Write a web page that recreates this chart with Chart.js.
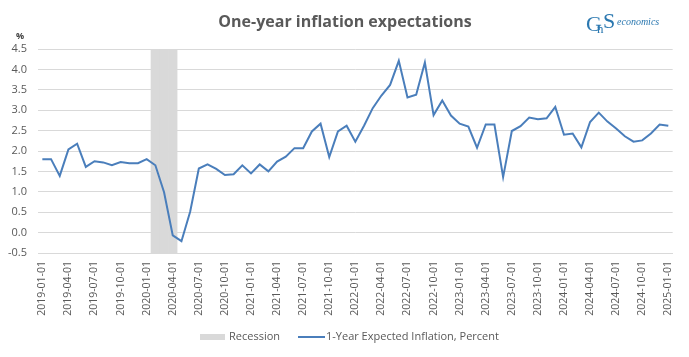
<!DOCTYPE html>
<html>
<head>
<meta charset="utf-8">
<script src="https://cdn.jsdelivr.net/npm/chart.js@4"></script>
<style>
html,body{margin:0;padding:0;background:#fff;}
#wrap{width:689px;height:357px;position:relative;}
</style>
</head>
<body>
<div id="wrap"><canvas id="c" width="689" height="357"></canvas></div>
<script>
const months = [
"2019-01-01","2019-02-01","2019-03-01","2019-04-01","2019-05-01","2019-06-01","2019-07-01","2019-08-01","2019-09-01","2019-10-01","2019-11-01","2019-12-01",
"2020-01-01","2020-02-01","2020-03-01","2020-04-01","2020-05-01","2020-06-01","2020-07-01","2020-08-01","2020-09-01","2020-10-01","2020-11-01","2020-12-01",
"2021-01-01","2021-02-01","2021-03-01","2021-04-01","2021-05-01","2021-06-01","2021-07-01","2021-08-01","2021-09-01","2021-10-01","2021-11-01","2021-12-01",
"2022-01-01","2022-02-01","2022-03-01","2022-04-01","2022-05-01","2022-06-01","2022-07-01","2022-08-01","2022-09-01","2022-10-01","2022-11-01","2022-12-01",
"2023-01-01","2023-02-01","2023-03-01","2023-04-01","2023-05-01","2023-06-01","2023-07-01","2023-08-01","2023-09-01","2023-10-01","2023-11-01","2023-12-01",
"2024-01-01","2024-02-01","2024-03-01","2024-04-01","2024-05-01","2024-06-01","2024-07-01","2024-08-01","2024-09-01","2024-10-01","2024-11-01","2024-12-01",
"2025-01-01"];

const inflation = [
1.80,1.80,1.39,2.04,2.18,1.61,1.75,1.72,1.65,1.73,1.70,1.70,
1.80,1.65,0.99,-0.07,-0.21,0.51,1.57,1.67,1.56,1.41,1.43,1.65,
1.45,1.67,1.50,1.74,1.86,2.07,2.07,2.48,2.67,1.85,2.48,2.62,
2.23,2.62,3.05,3.36,3.62,4.21,3.31,3.38,4.17,2.88,3.24,2.87,
2.67,2.60,2.08,2.65,2.65,1.36,2.49,2.61,2.82,2.78,2.80,3.08,
2.40,2.43,2.09,2.71,2.94,2.72,2.55,2.36,2.23,2.26,2.43,2.65,
2.62];

const recessionMonths = ["2020-02-01","2020-03-01","2020-04-01"];
const yMin = -0.5, yMax = 4.5, yStep = 0.5;

const recession = months.map(m => recessionMonths.includes(m) ? [yMin, yMax] : null);

const TXT = '#595959';
const FONT = '"Open Sans", "Noto Sans", sans-serif';

const decor = {
  id: 'decor',
  afterDraw(chart) {
    const ctx = chart.ctx;
    ctx.save();
    // title
    ctx.fillStyle = TXT;
    ctx.font = 'bold 16px ' + FONT;
    ctx.textAlign = 'center';
    ctx.textBaseline = 'middle';
    ctx.fillText('One-year inflation expectations', 345, 22);
    // % unit
    ctx.font = 'bold 9px ' + FONT;
    ctx.fillStyle = '#404040';
    ctx.fillText('%', 20, 36);
    // logo
    const blue = '#2b78b0';
    ctx.fillStyle = blue;
    ctx.textAlign = 'left';
    ctx.textBaseline = 'alphabetic';
    ctx.font = '22px "Liberation Serif", serif';
    ctx.fillText('G', 586, 31);
    ctx.font = '13px "Liberation Serif", serif';
    ctx.fillText('n', 597, 33);
    ctx.font = '22px "Liberation Serif", serif';
    ctx.fillText('S', 603, 28);
    ctx.font = 'italic 10px "Liberation Serif", serif';
    ctx.fillText('economics', 617, 25);
    // legend
    const ly = 337;
    ctx.textBaseline = 'middle';
    ctx.fillStyle = '#d9d9d9';
    ctx.fillRect(200, ly - 3, 25, 6);
    ctx.fillStyle = TXT;
    ctx.font = '11px ' + FONT;
    ctx.fillText('Recession', 229, ly);
    ctx.strokeStyle = '#4a7ebb';
    ctx.lineWidth = 2;
    ctx.beginPath();
    ctx.moveTo(298, ly);
    ctx.lineTo(325, ly);
    ctx.stroke();
    ctx.fillStyle = TXT;
    ctx.fillText('1-Year Expected Inflation, Percent', 326, ly);
    ctx.restore();
  }
};

new Chart(document.getElementById('c'), {
  data: {
    labels: months,
    datasets: [
      {
        type: 'line',
        label: '1-Year Expected Inflation, Percent',
        data: inflation,
        borderColor: '#4a7ebb',
        borderWidth: 2,
        pointRadius: 0,
        tension: 0,
        order: 0
      },
      {
        type: 'bar',
        label: 'Recession',
        data: recession,
        backgroundColor: '#d9d9d9',
        borderWidth: 0,
        barPercentage: 1.0,
        categoryPercentage: 1.0,
        grouped: false,
        order: 1
      }
    ]
  },
  options: {
    responsive: false,
    animation: false,
    layout: { padding: { top: 49, left: 0, right: 13, bottom: 0 } },
    plugins: { legend: { display: false }, title: { display: false }, tooltip: { enabled: false } },
    scales: {
      x: {
        type: 'category',
        offset: true,
        grid: { display: false, drawTicks: false },
        border: { display: true, color: '#d9d9d9' },
        ticks: {
          autoSkip: false,
          maxRotation: 90,
          minRotation: 90,
          padding: 8,
          color: TXT,
          font: { family: FONT, size: 10.5 },
          callback: function(v, i) { return i % 3 === 0 ? this.getLabelForValue(v) : ''; }
        },
        afterFit(scale) { scale.height = 104; }
      },
      y: {
        min: yMin, max: yMax,
        grid: { color: '#d9d9d9', drawTicks: false },
        border: { display: false },
        ticks: {
          stepSize: yStep,
          padding: 11,
          color: TXT,
          font: { family: FONT, size: 11 },
          callback: v => Number(v).toFixed(1)
        },
        afterFit(scale) { scale.width = 38; }
      }
    }
  },
  plugins: [decor]
});
</script>
</body>
</html>
